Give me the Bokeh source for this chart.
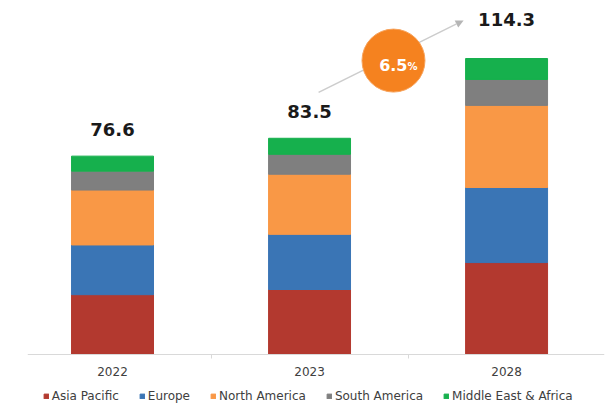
from bokeh.plotting import figure
from bokeh.models import (Range1d, FixedTicker, Legend, LegendItem, Arrow,
                          NormalHead, ColumnDataSource)
from bokeh.embed import file_html
from bokeh.resources import INLINE
from bokeh.core.properties import value

# ---------------- data ----------------
years = ["2022", "2023", "2028"]
regions = ["Asia Pacific", "Europe", "North America", "South America",
           "Middle East & Africa"]
asia_pacific = [23.1, 25.1, 35.5]
europe = [19.2, 21.3, 29.0]
north_america = [21.2, 23.2, 31.7]
south_america = [7.3, 7.7, 10.0]
middle_east_africa = [5.8, 6.2, 8.1]
totals = [76.6, 83.5, 114.3]
cagr_label = "6.5"

# ---------------- styles / layout ----------------
colors = ["#B3392F", "#3A75B5", "#F99846", "#7F7F7F", "#16B04D"]
label_gap = [-27, -27, -39]
FONT = "DejaVu Sans"

xs = list(range(len(years)))
keys = ["ap", "eu", "na", "sa", "mea"]
src = ColumnDataSource(dict(x=xs, ap=asia_pacific, eu=europe, na=north_america,
                            sa=south_america, mea=middle_east_africa))

p = figure(width=610, height=406,
           x_range=Range1d(-0.4315, 2.497), y_range=Range1d(-20.08, 136.7),
           output_backend="svg", toolbar_location=None,
           y_axis_location=None,
           min_border_left=27, min_border_right=6,
           min_border_top=0, min_border_bottom=0)
p.outline_line_color = None
p.grid.visible = False
p.background_fill_color = "white"
p.border_fill_color = "white"

rends = p.vbar_stack(keys, x="x", width=0.416, color=colors, source=src)

# growth arrow (under the bubble)
arrow = Arrow(x_start=1.046, y_start=101.2, x_end=1.782, y_end=129.0,
              line_color="#cccccc", line_width=1.5,
              end=NormalHead(size=8, fill_color="#b5b5b5", line_color=None),
              level="underlay")
p.add_layout(arrow)

# total labels
lsrc = ColumnDataSource(dict(x=xs, y=totals, t=[f"{v}" for v in totals],
                             off=label_gap))
p.text(x="x", y="y", text="t", y_offset="off", source=lsrc,
       text_align="center", text_baseline="middle",
       text_font=value(FONT), text_font_style="bold",
       text_font_size="18px", text_color="#1a1a1a")

# CAGR bubble
p.scatter(x=[1.426], y=[113.5], size=63, fill_color="#F5821F",
          line_color="#F7A35C", line_width=1)
p.text(x=[1.426], y=[113.5], text=[cagr_label], x_offset=14, y_offset=4,
       text_align="right", text_baseline="middle",
       text_font=value(FONT), text_font_style="bold",
       text_font_size="16px", text_color="white")
p.text(x=[1.426], y=[113.5], text=["%"], x_offset=14, y_offset=6,
       text_align="left", text_baseline="middle",
       text_font=value(FONT), text_font_style="bold",
       text_font_size="10px", text_color="white")

# x axis drawn at the zero baseline
ax = p.xaxis[0]
ax.fixed_location = 0
ax.ticker = FixedTicker(ticks=xs, minor_ticks=[0.5, 1.5])
ax.major_label_overrides = {i: y for i, y in zip(xs, years)}
ax.major_tick_out = 0
ax.major_tick_in = 0
ax.major_tick_line_color = None
ax.minor_tick_out = 4
ax.minor_tick_in = 0
ax.minor_tick_line_color = "#d9d9d9"
ax.axis_line_color = "#d9d9d9"
ax.axis_line_width = 1
ax.major_label_standoff = 8
ax.major_label_text_font = FONT
ax.major_label_text_font_size = "12px"
ax.major_label_text_color = "#404040"

legend = Legend(items=[LegendItem(label=r, renderers=[rd]) for r, rd in zip(regions, rends)],
                orientation="horizontal", location=(15.7, 3),
                glyph_width=6, glyph_height=6, label_standoff=3, spacing=20,
                padding=0, margin=0, label_height=14,
                label_text_font=FONT, label_text_font_size="12px",
                label_text_color="#404040", border_line_color=None,
                background_fill_alpha=0)
p.add_layout(legend, "center")

open("out.html", "w").write(file_html(p, INLINE))
